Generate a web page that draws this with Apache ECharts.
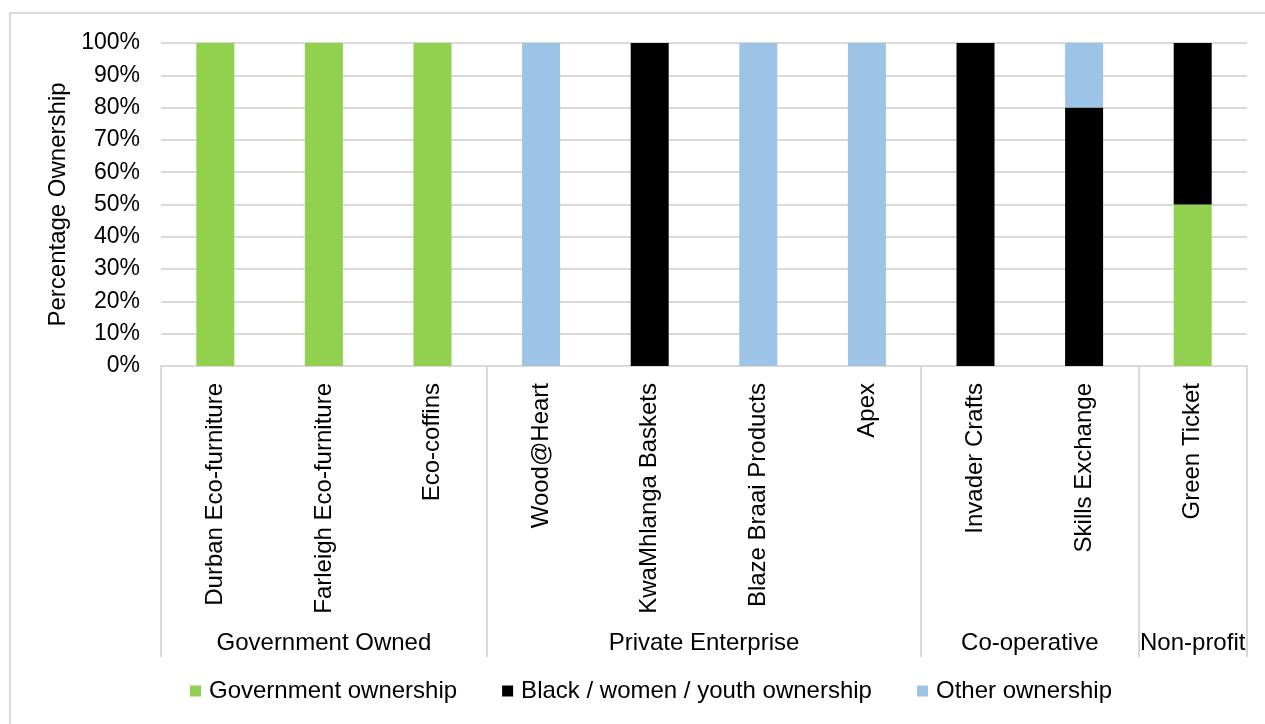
<!DOCTYPE html>
<html>
<head>
<meta charset="utf-8">
<script src="https://cdn.jsdelivr.net/npm/echarts@6/dist/echarts.min.js"></script>
<style>
html,body{margin:0;padding:0;background:#fff;}
#main{width:1265px;height:724px;}
</style>
</head>
<body>
<div id="main"></div>
<script>
const categories = ['Durban Eco-furniture','Farleigh Eco-furniture','Eco-coffins','Wood@Heart','KwaMhlanga Baskets','Blaze Braai Products','Apex','Invader Crafts','Skills Exchange','Green Ticket'];
const groupNames = ['Government Owned','Private Enterprise','Co-operative','Non-profit'];
const groupSizes = [3,4,2,1];
const governmentOwnership = [100,100,100,0,0,0,0,0,0,50];
const blackWomenYouthOwnership = [0,0,0,0,100,0,0,100,80,50];
const otherOwnership = [0,0,0,100,0,100,100,0,20,0];
const seriesNames = ['Government ownership','Black / women / youth ownership','Other ownership'];
const yTicks = [0,10,20,30,40,50,60,70,80,90,100];

// group boundaries and centres (in category units)
const boundaries = [0];
const centres = [];
groupSizes.forEach(s => { const start = boundaries[boundaries.length-1]; centres.push(start + s/2); boundaries.push(start + s); });
const total = categories.length;

const FONT = "'Liberation Sans', Arial, sans-serif";
const gridCol = '#d9d9d9';

const chart = echarts.init(document.getElementById('main'));
chart.setOption({
  animation: false,
  backgroundColor: '#ffffff',
  textStyle: {fontFamily: FONT},
  graphic: [{
    type: 'rect', silent: true,
    shape: {x: 10, y: 13, width: 1300, height: 800},
    style: {fill: 'none', stroke: '#d9d9d9', lineWidth: 2}
  }],
  grid: {left: 161, right: 18, top: 43, bottom: 358, containLabel: false},
  legend: {
    bottom: 16, left: 185,
    itemWidth: 11, itemHeight: 11, itemGap: 45,
    icon: 'rect',
    textStyle: {fontSize: 24, color: '#000', fontFamily: FONT, padding: [0,0,0,3]},
    data: seriesNames
  },
  xAxis: [{
    type: 'category', data: categories, position: 'bottom',
    axisLine: {show: true, lineStyle: {color: gridCol, width: 2}},
    axisTick: {show: false},
    axisLabel: {rotate: 90, fontSize: 24, color: '#000', margin: 17, fontFamily: FONT, interval: 0}
  }, {
    type: 'value', min: 0, max: total, position: 'bottom',
    axisLine: {show: false},
    splitLine: {show: false},
    axisTick: {show: true, inside: false, length: 291, lineStyle: {color: gridCol, width: 2}, customValues: boundaries},
    axisLabel: {show: true, customValues: centres, margin: 265, fontSize: 24, color: '#000', fontFamily: FONT,
      formatter: v => { const i = centres.findIndex(c => Math.abs(c - v) < 1e-6); return i >= 0 ? groupNames[i] : ''; }}
  }],
  yAxis: {
    type: 'value', min: 0, max: 100, interval: 10,
    name: 'Percentage Ownership', nameLocation: 'middle', nameGap: 90,
    nameTextStyle: {fontSize: 24, color: '#000', fontFamily: FONT},
    axisLine: {show: false}, axisTick: {show: false},
    axisLabel: {formatter: '{value}%', fontSize: 23, color: '#000', margin: 21, fontFamily: FONT},
    splitLine: {show: true, lineStyle: {color: gridCol, width: 2}}
  },
  series: [
    {name: seriesNames[0], type: 'bar', stack: 'own', data: governmentOwnership, barWidth: 38, itemStyle: {color: '#92d050'}},
    {name: seriesNames[1], type: 'bar', stack: 'own', data: blackWomenYouthOwnership, barWidth: 38, itemStyle: {color: '#000000'}},
    {name: seriesNames[2], type: 'bar', stack: 'own', data: otherOwnership, barWidth: 38, itemStyle: {color: '#9dc3e6'}}
  ]
});
</script>
</body>
</html>
